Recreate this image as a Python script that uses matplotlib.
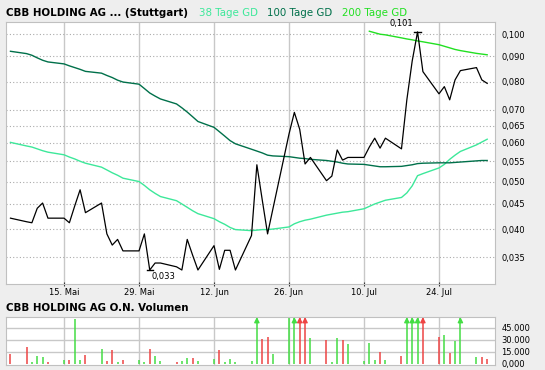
import matplotlib
matplotlib.use("Agg")
import matplotlib.pyplot as plt
import matplotlib.ticker as mticker
import matplotlib.transforms as mtrans
import numpy as np
import pandas as pd

# trading days shown in the chart
dates = pd.bdate_range("2023-05-05", "2023-08-02")

price = [0.0421, 0.0414, 0.0412, 0.0441, 0.0452, 0.0421,
         0.0421, 0.0412, 0.0446, 0.0481, 0.0432,
         0.0452, 0.0391, 0.0371, 0.0381, 0.0361,
         0.0361, 0.0391, 0.0330, 0.0341, 0.0341,
         0.0335, 0.0330, 0.0381, 0.0354, 0.0330,
         0.0370, 0.0331, 0.0362, 0.0362, 0.0330,
         0.0388, 0.0541, 0.0459, 0.0391, 0.0440,
         0.0625, 0.0692, 0.0639, 0.0543, 0.0560,
         0.0502, 0.0513, 0.0580, 0.0553, 0.0560,
         0.0560, 0.0588, 0.0613, 0.0585, 0.0613,
         0.0583, 0.0734, 0.0881, 0.1010, 0.0838,
         0.0755, 0.0781, 0.0734, 0.0806, 0.0842,
         0.0854, 0.0806, 0.0793]

ma38 = [0.0601, 0.0591, 0.0588, 0.0583, 0.0578, 0.0574,
        0.0567, 0.0561, 0.0556, 0.0550, 0.0545,
        0.0535, 0.0528, 0.0521, 0.0515, 0.0508,
        0.0500, 0.0491, 0.0481, 0.0473, 0.0466,
        0.0457, 0.0450, 0.0443, 0.0436, 0.0430,
        0.0420, 0.0414, 0.0409, 0.0403, 0.0399,
        0.0397, 0.0398, 0.0399, 0.0399, 0.0400,
        0.0404, 0.0410, 0.0414, 0.0417, 0.0419,
        0.0427, 0.0429, 0.0431, 0.0433, 0.0434,
        0.0440, 0.0445, 0.0450, 0.0454, 0.0458,
        0.0464, 0.0474, 0.0490, 0.0514, 0.0519,
        0.0533, 0.0542, 0.0555, 0.0566, 0.0576,
        0.0594, 0.0602, 0.0610]

ma100 = [0.0922, 0.0912, 0.0905, 0.0894, 0.0884, 0.0877,
         0.0869, 0.0861, 0.0854, 0.0847, 0.0839,
         0.0832, 0.0823, 0.0815, 0.0805, 0.0798,
         0.0790, 0.0774, 0.0758, 0.0747, 0.0737,
         0.0720, 0.0707, 0.0693, 0.0678, 0.0663,
         0.0645, 0.0632, 0.0619, 0.0606, 0.0597,
         0.0582, 0.0577, 0.0572, 0.0566, 0.0564,
         0.0562, 0.0560, 0.0558, 0.0557, 0.0555,
         0.0552, 0.0550, 0.0548, 0.0545, 0.0543,
         0.0542, 0.0540, 0.0538, 0.0536, 0.0536,
         0.0537, 0.0539, 0.0541, 0.0544, 0.0545,
         0.0546, 0.0546, 0.0546, 0.0547, 0.0548,
         0.0551, 0.0552, 0.0552]

# 200 day average only starts on 11 Jul
ma200_dates = dates[-17:]
ma200 = [0.1013, 0.1006, 0.0999, 0.0996,
         0.0982, 0.0977, 0.0973, 0.0968, 0.0964,
         0.0951, 0.0944, 0.0937, 0.0930, 0.0925,
         0.0913, 0.0910, 0.0907]

volume = [12100, 20800, 2100, 9600, 8300, 2100,
          5000, 5000, 56000, 4600, 11250,
          18300, 3300, 17500, 2100, 4600,
          5000, 2100, 18750, 10000, 3300,
          2100, 3300, 7100, 7100, 3300,
          5800, 17500, 2100, 5800, 2100,
          3300, 75000, 31250, 33300, 12100,
          57000, 75000, 75000, 75000, 32000,
          29600, 2100, 32000, 29600, 24600,
          2900, 25800, 4600, 14600, 4600,
          9600, 75000, 75000, 75000, 75000,
          33300, 35800, 13300, 28300, 75000,
          8300, 8300, 5800]
vol_dir = list("rrgggr" "grggr" "grrgr" "ggrgg" "rggrg" "grggg"
               "ggrrg" "ggrrg" "rggrg" "gggrg" "rgggr" "rgrgg" "grr")

tick_dates = pd.to_datetime(["2023-05-15", "2023-05-29", "2023-06-12",
                             "2023-06-26", "2023-07-10", "2023-07-24"])
tick_labels = ["15. Mai", "29. Mai", "12. Jun", "26. Jun", "10. Jul", "24. Jul"]
y_ticks = [0.035, 0.040, 0.045, 0.050, 0.055, 0.060, 0.065, 0.070, 0.080, 0.090, 0.100]
vol_ticks = [0, 15000, 30000, 45000]
vol_labels = ["0,000", "15.000", "30.000", "45.000"]

W, H = 545, 370
bg = "#eeeeee"
grid_c = "#c8c8c8"
c38, c100, c200 = "#3de89a", "#00704a", "#22e022"
up_c, down_c = "#44dd44", "#ee4444"

fig = plt.figure(figsize=(W / 100, H / 100), dpi=100)
fig.patch.set_facecolor(bg)

def box(l, t, r, b):
    return [l / W, 1 - b / H, (r - l) / W, (b - t) / H]

xlim = (pd.Timestamp("2023-05-04 04:00"), pd.Timestamp("2023-08-03 11:00"))

ax = fig.add_axes(box(6, 22, 495, 284))
ax.set_yscale("log")
ax.set_xlim(xlim)
ax.set_ylim(0.0309, 0.1058)
for d in tick_dates:
    ax.axvline(d, color=grid_c, lw=1, zorder=0)
for v in y_ticks:
    ax.axhline(v, color="#aaaaaa", lw=0.8, ls=(0, (1, 2)), zorder=0)

ax.plot(dates, ma38, color=c38, lw=1)
ax.plot(dates, ma100, color=c100, lw=1)
ax.plot(ma200_dates, ma200, color=c200, lw=1)
ax.plot(dates, price, color="black", lw=0.9)

# min / max markers
pr = np.array(price)
i_min = int(np.argmin(pr))
i_max = int(np.argmax(pr))
half = pd.Timedelta(hours=14)
ax.plot([dates[i_min] - half, dates[i_min] + half], [pr[i_min]] * 2, color="black", lw=1)
ax.plot([dates[i_max] - half, dates[i_max] + half], [pr[i_max]] * 2, color="black", lw=1, clip_on=False)
ax.annotate("0,033", (dates[i_min], pr[i_min]), xytext=(1.5, -4.8), textcoords="offset points",
            ha="left", va="center", fontsize=6)
ax.annotate("0,101", (dates[i_max], pr[i_max]), xytext=(-3.3, 6), textcoords="offset points",
            ha="right", va="center", fontsize=6, annotation_clip=False)

ax.yaxis.tick_right()
ax.yaxis.set_minor_locator(mticker.NullLocator())
ax.set_yticks(y_ticks)
ax.set_yticklabels([f"{v:.3f}".replace(".", ",") for v in y_ticks])
ax.set_xticks(tick_dates)
ax.set_xticklabels(tick_labels)
ax.tick_params(axis="y", length=0, pad=4.5, labelsize=6)
ax.tick_params(axis="x", length=3, direction="inout", color="#333333", labelsize=6, pad=1.5)
for s in ax.spines.values():
    s.set_color("#c0c0c0")

# volume panel
av = fig.add_axes(box(6, 317.3, 495, 365))
av.set_xlim(xlim)
av.set_ylim(-1800, 57750)
for d in tick_dates:
    av.axvline(d, color=grid_c, lw=1, zorder=0)
for v in vol_ticks[1:]:
    av.axhline(v, color=grid_c, lw=1, zorder=0)
top = 57750
vol = np.array(volume)
cols = [up_c if c == "g" else down_c for c in vol_dir]
av.vlines(dates, 0, np.minimum(vol, top), colors=cols, lw=1.1)
over = vol > top
trans = mtrans.blended_transform_factory(av.transData, av.transAxes)
av.scatter(dates[over], [0.93] * over.sum(), marker="^", s=9,
           c=[cols[i] for i in np.where(over)[0]], transform=trans, clip_on=False, zorder=3)
av.yaxis.tick_right()
av.set_yticks(vol_ticks)
av.set_yticklabels(vol_labels)
av.set_xticks([])
av.tick_params(axis="y", length=0, pad=4.5, labelsize=6)
for s in av.spines.values():
    s.set_color("#c0c0c0")

# header texts
fs = 7.4
fig.text(6 / W, 1 - 13 / H, "CBB HOLDING AG ... (Stuttgart)", fontsize=fs,
         fontweight="bold", va="center", ha="left")
fig.text(199 / W, 1 - 13 / H, "38 Tage GD", color=c38, fontsize=fs, va="center")
fig.text(267 / W, 1 - 13 / H, "100 Tage GD", color=c100, fontsize=fs, va="center")
fig.text(342 / W, 1 - 13 / H, "200 Tage GD", color=c200, fontsize=fs, va="center")
fig.text(6 / W, 1 - 308 / H, "CBB HOLDING AG O.N. Volumen", fontsize=fs,
         fontweight="bold", va="center", ha="left")

fig.savefig("out.png", dpi=100, facecolor=bg)
